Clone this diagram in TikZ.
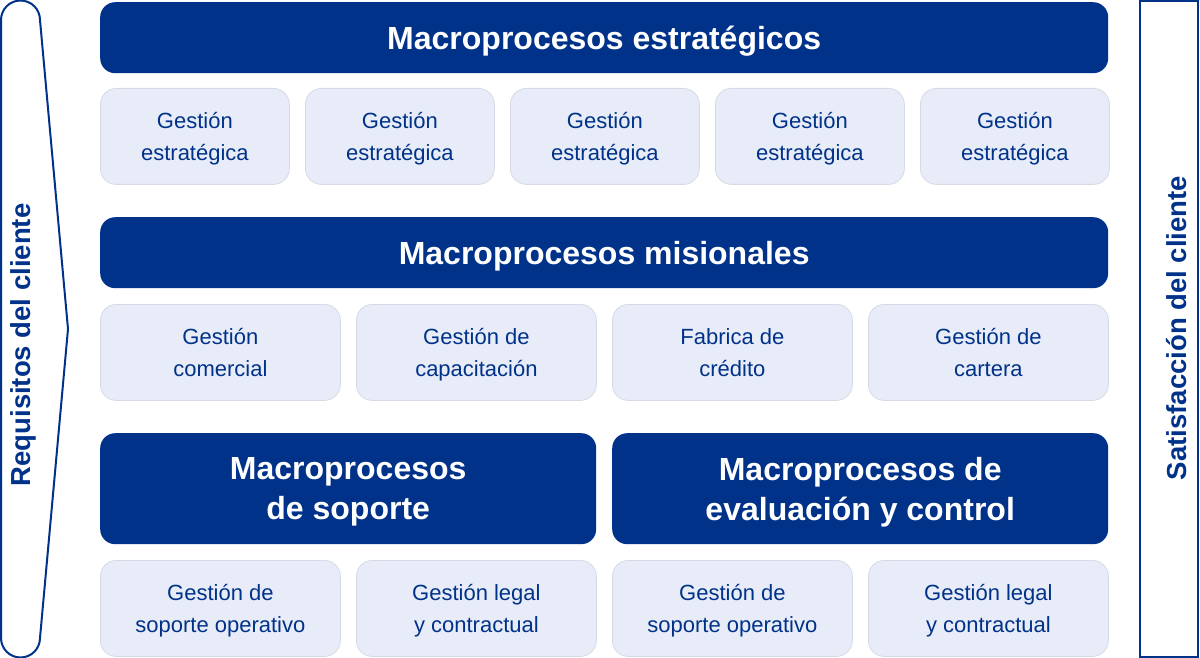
\documentclass[tikz,border=0pt]{standalone}
\usepackage{fontspec}
\setmainfont{Liberation Sans}
\definecolor{macroblue}{RGB}{0,50,137}
\definecolor{procfill}{RGB}{232,236,248}
\definecolor{procedge}{RGB}{214,218,228}

\tikzset{
    macrobox/.style={fill=macroblue, text=white, rounded corners=15pt, inner sep=0pt,
        anchor=north west, minimum height=71pt, align=center, text depth=0pt,
        font=\fontsize{32}{40}\selectfont\bfseries},
    procbox/.style={fill=procfill, draw=procedge, line width=0.8pt, text=macroblue,
        rounded corners=16pt, inner sep=0pt, anchor=north west, minimum height=96pt,
        align=center, text depth=0pt, font=\fontsize{22}{32}\selectfont},
    sidetext/.style={text=macroblue, rotate=90, font=\fontsize{27.5}{32}\selectfont\bfseries}
}

\begin{document}
\begin{tikzpicture}[x=1pt, y=-1pt]

    \useasboundingbox (0,0) rectangle (1200,658);

    % Left arrow: client requirements
    \draw[macroblue, line width=2pt] (1,20) arc[start angle=180, end angle=0, radius=19.5pt]
        -- (68,329) -- (40,638) arc[start angle=0, end angle=-180, radius=19.5pt] -- cycle;
    \node[sidetext] (req) at (23,345) {Requisitos del cliente};

    % Right box: client satisfaction
    \draw[macroblue, line width=1.5pt] (1140,1) rectangle (1198,657);
    \node[sidetext] (sat) at (1177,328) {Satisfacción del cliente};

    % Strategic macroprocesses
    \node[macrobox, minimum width=1008pt] (estr) at (100,2) {Macroprocesos estratégicos};
    \node[procbox, minimum width=189pt] (estr1) at (100,88) {Gestión\\estratégica};
    \node[procbox, minimum width=189pt] (estr2) at (305,88) {Gestión\\estratégica};
    \node[procbox, minimum width=189pt] (estr3) at (510,88) {Gestión\\estratégica};
    \node[procbox, minimum width=189pt] (estr4) at (715,88) {Gestión\\estratégica};
    \node[procbox, minimum width=189pt] (estr5) at (920,88) {Gestión\\estratégica};

    % Missional macroprocesses
    \node[macrobox, minimum width=1008pt] (mis) at (100,217) {Macroprocesos misionales};
    \node[procbox, minimum width=240pt] (mis1) at (100,304) {Gestión\\comercial};
    \node[procbox, minimum width=240pt] (mis2) at (356,304) {Gestión de\\capacitación};
    \node[procbox, minimum width=240pt] (mis3) at (612,304) {Fabrica de\\crédito};
    \node[procbox, minimum width=240pt] (mis4) at (868,304) {Gestión de\\cartera};

    % Support and control macroprocesses
    \node[macrobox, minimum width=496pt, minimum height=111pt] (sop) at (100,433) {Macroprocesos\\de soporte};
    \node[macrobox, minimum width=496pt, minimum height=111pt] (eval) at (612,433) {Macroprocesos de\\evaluación y control};
    \node[procbox, minimum width=240pt] (sop1) at (100,560) {Gestión de\\soporte operativo};
    \node[procbox, minimum width=240pt] (sop2) at (356,560) {Gestión legal\\y contractual};
    \node[procbox, minimum width=240pt] (eval1) at (612,560) {Gestión de\\soporte operativo};
    \node[procbox, minimum width=240pt] (eval2) at (868,560) {Gestión legal\\y contractual};

\end{tikzpicture}
\end{document}
